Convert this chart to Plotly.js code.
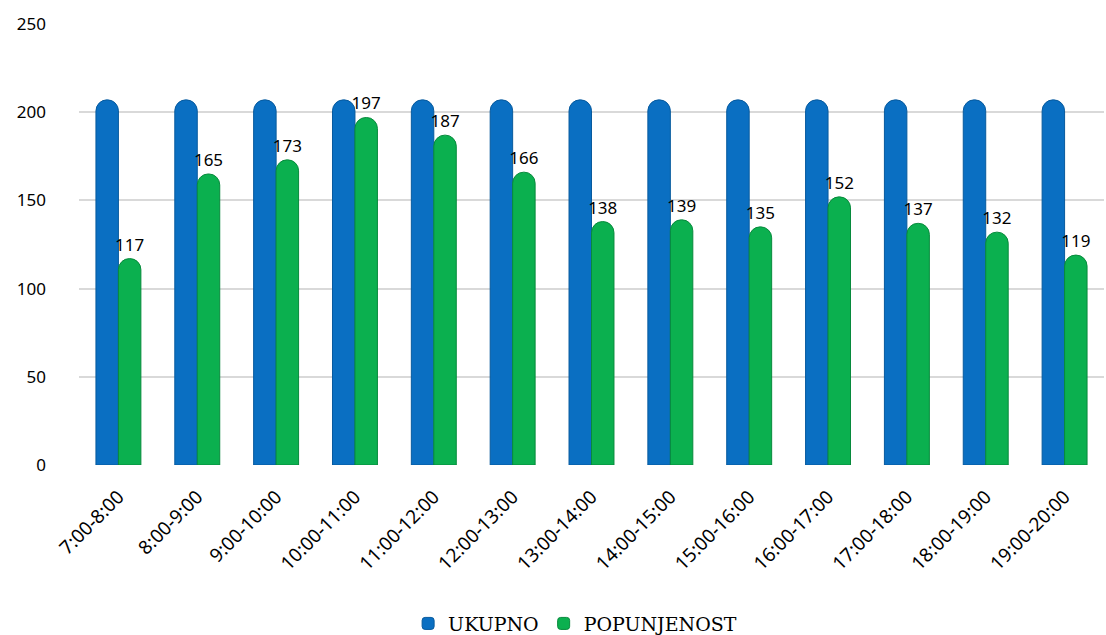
<!DOCTYPE html>
<html><head><meta charset="utf-8">
<script src="https://cdn.plot.ly/plotly-3.0.1.min.js"></script>
<style>html,body{margin:0;padding:0;background:#fff}</style>
</head><body><div id="chart" style="width:1106px;height:635px"></div>
<script>
const categories = ["7:00-8:00","8:00-9:00","9:00-10:00","10:00-11:00","11:00-12:00","12:00-13:00","13:00-14:00","14:00-15:00","15:00-16:00","16:00-17:00","17:00-18:00","18:00-19:00","19:00-20:00"];
const ukupno = [207,207,207,207,207,207,207,207,207,207,207,207,207];
const popunjenost = [117,165,173,197,187,166,138,139,135,152,137,132,119];
const yTicks = [0,50,100,150,200,250];

const traces = [
  {type:'bar', name:'UKUPNO', x:categories, y:ukupno,
   marker:{color:'#0A6FC2', cornerradius:11, line:{color:'#075A9E', width:1}},
   hoverinfo:'x+y'},
  {type:'bar', name:'POPUNJENOST', x:categories, y:popunjenost,
   text:popunjenost.map(String), textposition:'outside', cliponaxis:false,
   constraintext:'none',
   textfont:{family:'Noto Sans, sans-serif', size:17, color:'#000'},
   marker:{color:'#0BB04F', cornerradius:11, line:{color:'#078A3C', width:1}},
   hoverinfo:'x+y'}
];
const layout = {
  width:1106, height:635,
  margin:{l:79, r:2, t:24, b:170},
  paper_bgcolor:'#fff', plot_bgcolor:'#fff',
  barmode:'group', bargap:0.43, bargroupgap:0,
  showlegend:true,
  legend:{orientation:'h', xref:'container', yref:'container', x:0.52, xanchor:'center',
    y:0.018, yanchor:'middle',
    font:{family:'DejaVu Serif, serif', size:19, color:'#000'}, traceorder:'normal', itemwidth:30},
  xaxis:{type:'category', tickangle:-45, showgrid:false, zeroline:false, showline:false, automargin:false,
    ticks:'', ticklabelstandoff:16, tickfont:{family:'Noto Sans, sans-serif', size:19, color:'#000'}},
  yaxis:{range:[0,250], tickvals:yTicks, showgrid:true, gridcolor:'#D9D9D9', gridwidth:2, automargin:false,
    zeroline:false, showline:false, ticks:'', ticklabelstandoff:32,
    tickfont:{family:'Noto Sans, sans-serif', size:17, color:'#000'}},
  font:{family:'Noto Sans, sans-serif'}
};
Plotly.newPlot('chart', traces, layout, {displayModeBar:false, staticPlot:true});
</script></body></html>
